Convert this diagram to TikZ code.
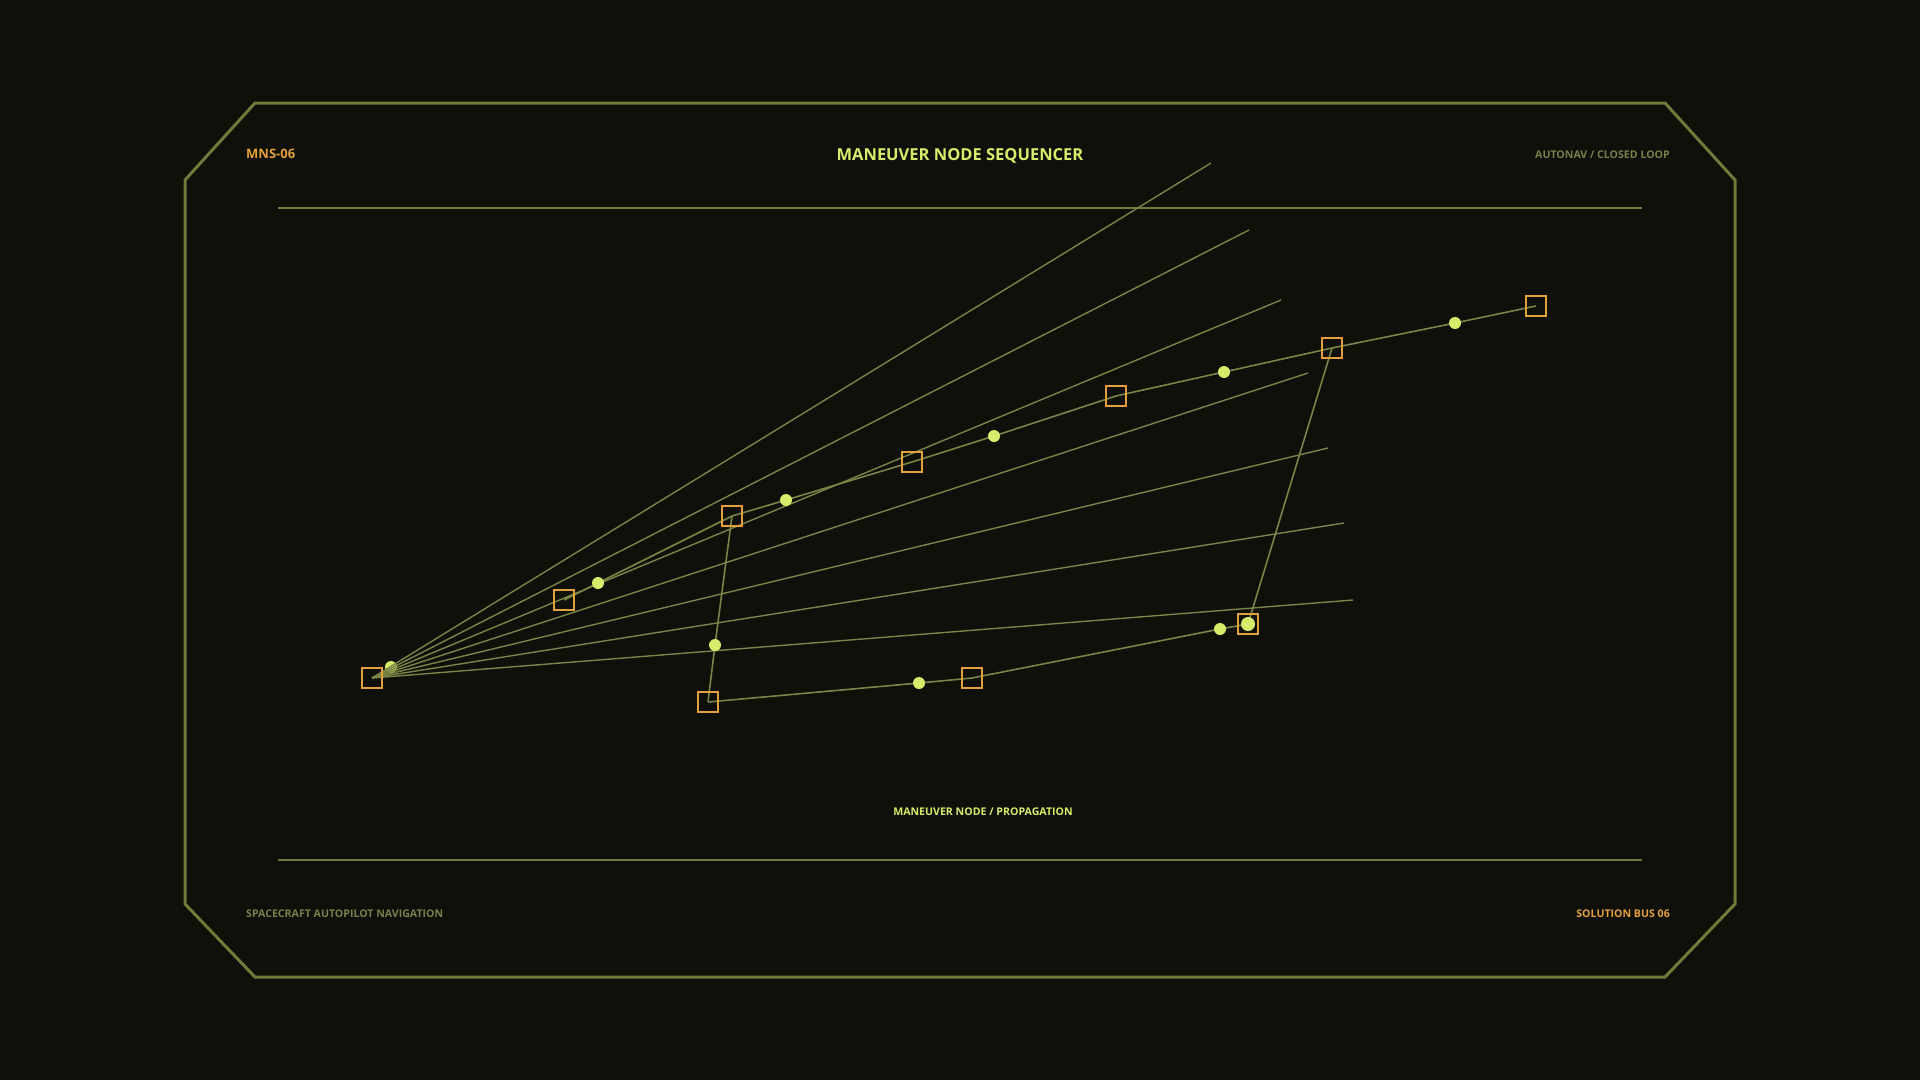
\documentclass[tikz,border=0pt]{standalone}
\usepackage{fontspec}
\setmainfont{Open Sans}

\definecolor{bgdark}{HTML}{0F100A}
\definecolor{framegreen}{HTML}{6E7B3A}
\definecolor{navolive}{HTML}{7A8446}
\definecolor{navtext}{HTML}{77804A}
\definecolor{navorange}{HTML}{E3A03C}
\definecolor{navlime}{HTML}{D6EC6B}

\pgfdeclarelayer{bglayer}
\pgfdeclarelayer{linelayer}
\pgfsetlayers{bglayer,linelayer,main}

\tikzset{
  navbox/.style={draw=navorange, line width=2pt, minimum size=20pt, inner sep=0pt},
  burn/.style={circle, fill=navlime, minimum size=12pt, inner sep=0pt},
  fanline/.style={draw=navolive, line width=1.4pt},
  leg/.style={draw=navolive, line width=1.6pt},
  rule/.style={draw=framegreen, line width=1.5pt},
  tag/.style={inner sep=0pt, font=\fontsize{10.6}{13}\selectfont\bfseries},
}

\begin{document}
\begin{tikzpicture}[x=1pt,y=-1pt]

  \begin{pgfonlayer}{bglayer}
    \fill[bgdark] (0,0) rectangle (1920,1080);
    \useasboundingbox (0,0) rectangle (1920,1080);
    % frame
    \draw[framegreen, line width=3pt, line join=miter]
      (255,103) -- (1665,103) -- (1735,180) -- (1735,904) -- (1665,977)
      -- (255,977) -- (185,904) -- (185,180) -- cycle;
    \draw[rule] (278,208) -- (1642,208);
    \draw[rule] (278,860) -- (1642,860);
    % origin dot sits under the fan
    \node[burn] (o1) at (391,667) {};
  \end{pgfonlayer}

  % labels
  \node[inner sep=0pt, anchor=west, text=navorange, font=\fontsize{13}{15}\selectfont\bfseries] (mns) at (246,154) {MNS-06};
  \node[inner sep=0pt, text=navlime, font=\fontsize{16.5}{19}\selectfont\bfseries] (title) at (960,155.5) {MANEUVER NODE SEQUENCER};
  \node[tag, anchor=east, text=navtext] (loop) at (1670,155) {AUTONAV / CLOSED LOOP};
  \node[tag, anchor=west, text=navtext] (craft) at (246,914) {SPACECRAFT AUTOPILOT NAVIGATION};
  \node[tag, anchor=east, text=navorange] (bus) at (1670,914) {SOLUTION BUS 06};
  \node[tag, text=navlime] (prop) at (983,812) {MANEUVER NODE / PROPAGATION};

  % maneuver nodes
  \node[navbox] (n0) at (372,678) {};
  \foreach \n/\x/\y in {a1/564/600, a2/732/516, a3/912/462, a4/1116/396,
                        a5/1332/348, a6/1536/306, d1/708/702, d2/972/678, d3/1248/624}
    \node[navbox] (\n) at (\x,\y) {};

  % burn points
  \foreach \n/\x/\y in {b1/598/583, b2/786/500, b3/994/436, b4/1224/372,
                        b5/1455/323, c1/715/645, c2/919/683, c3/1220/629}
    \node[burn] (\n) at (\x,\y) {};
  \node[burn, minimum size=14pt] (c4) at (1248,624) {};

  \begin{pgfonlayer}{linelayer}
    % fan of candidate solutions
    \foreach \i/\x/\y in {1/1211/163, 2/1249/230, 3/1281/300, 4/1308/373,
                          5/1328/448, 6/1344/523, 7/1353/600}{
      \coordinate (f\i) at (\x,\y);
      \draw[fanline] (n0.center) -- (f\i);
    }
    % propagated legs
    \foreach \p/\q in {a1/b1, b1/a2, a2/b2, b2/a3, a3/b3, b3/a4, a4/b4, b4/a5, a5/b5, b5/a6,
                       a2/c1, c1/d1, d1/c2, c2/d2, d2/c3, c3/d3, d3/a5}
      \draw[leg] (\p.center) -- (\q.center);
  \end{pgfonlayer}

\end{tikzpicture}
\end{document}
